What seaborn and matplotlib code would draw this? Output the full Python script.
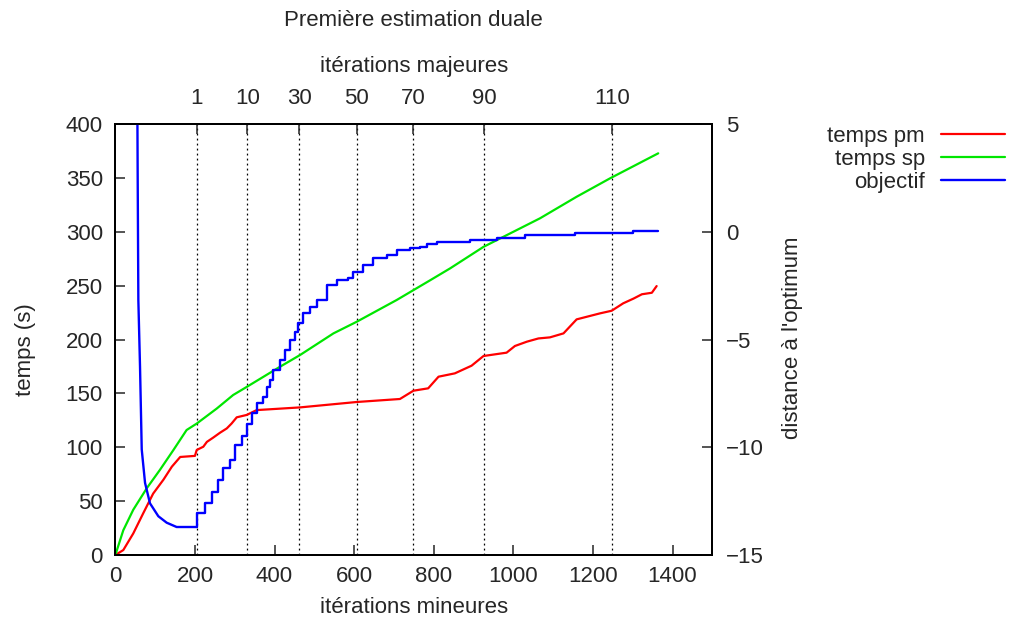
import matplotlib
matplotlib.use("Agg")
import matplotlib.pyplot as plt
import seaborn as sns

# --- data -------------------------------------------------------------
# temps pm (s) versus minor iterations
pm_x = [0, 20, 45, 70, 95, 121, 142, 163, 200, 204.5, 221, 230, 246, 263, 280,
        292, 305, 330, 355, 464, 606, 715, 749, 786, 812, 853, 895, 925, 983,
        1004, 1034, 1063, 1092, 1126, 1159, 1218, 1247, 1276, 1302, 1323, 1348, 1360]
pm_y = [0, 4.6, 20, 38.7, 57, 70, 82, 91, 92, 97.5, 100.5, 105, 109, 113.5, 117.5,
        122, 127.8, 130, 134.5, 137, 142, 144.8, 152.5, 154.7, 165.5, 168.6, 175.7,
        184.7, 187.8, 194, 198, 201, 202, 205.7, 218.7, 224.3, 226.7, 233.6, 238,
        242, 243.4, 249.6]

# temps sp (s) versus minor iterations
sp_x = [0, 20, 45, 79, 112, 146, 179, 204.5, 255, 296, 330, 414, 464, 548, 606.5,
        707, 791, 841, 925, 992, 1067, 1159, 1243, 1364]
sp_y = [0, 23, 42, 62, 79, 97.5, 116, 122, 136, 148.5, 156, 174.8, 185.6, 205.7,
        216.5, 236.7, 255, 266, 286, 298.5, 312.5, 332.5, 349.6, 372.8]

# objectif: distance to the optimum, first (continuous) phase
obj_x = [53, 56, 57.8, 62, 66.3, 74.6, 87, 108, 129, 154, 204.5]
obj_y = [15, 3, -3.17, -6.26, -10.1, -11.65, -12.6, -13.2, -13.5, -13.7, -13.7]

# objectif: stepwise phase (value held until the next step)
step_x = [204.5, 204.5, 225, 242, 259, 271, 288, 301, 318, 330, 343, 355, 372, 380,
          389, 397, 414, 426, 439, 452, 460, 472, 489, 506, 531, 556, 585, 598,
          623, 648, 682, 707, 740, 766, 782, 808, 891, 958, 1029, 1155, 1301, 1364]
step_y = [-13.7, -13.06, -12.6, -12.06, -11.52, -10.98, -10.6, -9.9, -9.5, -8.9,
          -8.4, -7.96, -7.65, -7.19, -6.88, -6.4, -5.95, -5.49, -5.02, -4.64, -4.25,
          -3.79, -3.48, -3.17, -2.47, -2.24, -2.16, -1.85, -1.54, -1.23, -1.08,
          -0.85, -0.77, -0.69, -0.57, -0.46, -0.38, -0.28, -0.15, -0.07, 0.03, 0.03]

# major iterations, located on the minor-iteration scale
major_pos = [205, 332, 462, 606, 749, 926, 1247]
major_labels = ["1", "10", "30", "50", "70", "90", "110"]

x_ticks = [0, 200, 400, 600, 800, 1000, 1200, 1400]
y_ticks = [0, 50, 100, 150, 200, 250, 300, 350, 400]
y2_ticks = [-15, -10, -5, 0, 5]

# --- style ------------------------------------------------------------
sns.set_style("ticks")
plt.rcParams["font.family"] = ["Liberation Sans", "DejaVu Sans"]
plt.rcParams["axes.linewidth"] = 1.3
plt.rcParams["axes.unicode_minus"] = True
FS = 16
RECT = [0.1142, 0.1148, 0.5911, 0.6874]

fig = plt.figure(figsize=(10.1, 6.27), dpi=100)
ax_top = fig.add_axes(RECT)
ax = fig.add_axes(RECT)
ax_r = ax.twinx()
ax_top.set_zorder(0)
ax.set_zorder(1)
ax_r.set_zorder(2)
ax.patch.set_visible(False)
ax_r.patch.set_visible(False)

# main time curves
sns.lineplot(x=pm_x, y=pm_y, ax=ax, color="#ff0000", lw=1.6, label="temps pm",
             sort=False, estimator=None)
sns.lineplot(x=sp_x, y=sp_y, ax=ax, color="#00e600", lw=1.6, label="temps sp",
             sort=False, estimator=None)

# objective on the secondary axis
sns.lineplot(x=obj_x, y=obj_y, ax=ax_r, color="#0000ff", lw=1.7, label="objectif",
             sort=False, estimator=None)
sns.lineplot(x=step_x, y=step_y, ax=ax_r, color="#0000ff", lw=1.7,
             drawstyle="steps-post", sort=False, estimator=None)

ax.set_xlim(0, 1500)
ax.set_ylim(0, 400)
ax_r.set_ylim(-15, 5)

ax.set_xticks(x_ticks)
ax.set_yticks(y_ticks)
ax_r.set_yticks(y2_ticks)
ax.set_xticklabels([str(v) for v in x_ticks])
ax.set_yticklabels([str(v) for v in y_ticks])
ax_r.set_yticklabels([str(v).replace("-", "\u2212") for v in y2_ticks])

ax.tick_params(axis="both", direction="in", length=7, width=1.1, labelsize=FS,
               pad=9, top=False, right=False)
ax.tick_params(axis="x", pad=8)
ax_r.tick_params(axis="y", direction="in", length=7, width=1.1, labelsize=FS,
                 pad=10, left=False, right=True)

# top axis: major iterations with dotted guide lines
ax_top.set_xlim(0, 1500)
ax_top.xaxis.set_ticks_position("top")
ax_top.xaxis.set_label_position("top")
ax_top.set_xticks(major_pos)
ax_top.set_xticklabels(major_labels)
ax_top.tick_params(axis="x", direction="in", length=7, width=1.1, labelsize=FS,
                   pad=11, top=True, bottom=False, labeltop=True, labelbottom=False)
ax_top.tick_params(axis="y", left=False, labelleft=False)
ax_top.set_yticks([])
ax_top.grid(axis="x", linestyle=(0, (1.5, 2.5)), color="black", lw=0.9)

for a in (ax, ax_r, ax_top):
    for s in a.spines.values():
        s.set_color("black")
        s.set_linewidth(1.3)

# axis labels and title
ax.set_xlabel("itérations mineures", fontsize=FS)
ax.xaxis.set_label_coords(0.5, -0.1207)
ax.xaxis.label.set_va("center")

ax.set_ylabel("temps (s)", fontsize=FS)
ax.yaxis.set_label_coords(-0.151, 0.476)
ax.yaxis.label.set_va("center")

ax_r.set_ylabel("distance à l'optimum", fontsize=FS, rotation=90)
ax_r.yaxis.set_label_coords(1.135, 0.505)
ax_r.yaxis.label.set_va("center")

ax_top.set_xlabel("itérations majeures", fontsize=FS)
ax_top.xaxis.set_label_coords(0.5, 1.1323)
ax_top.xaxis.label.set_va("center")

ax.set_title("Première estimation duale", fontsize=FS, y=1.241, va="center", pad=0)

# legend outside on the right
h1, l1 = ax.get_legend_handles_labels()
h2, l2 = ax_r.get_legend_handles_labels()
for a in (ax, ax_r):
    if a.get_legend() is not None:
        a.get_legend().remove()
fig.legend(h1 + h2[:1], l1 + l2[:1], loc="upper right",
           bbox_to_anchor=(1005 / 1010, 1 - 126 / 627), frameon=False,
           markerfirst=False, handlelength=2.9, handletextpad=0.7,
           labelspacing=0.08, borderpad=0, borderaxespad=0, fontsize=FS)

fig.savefig("out.png", dpi=100)
